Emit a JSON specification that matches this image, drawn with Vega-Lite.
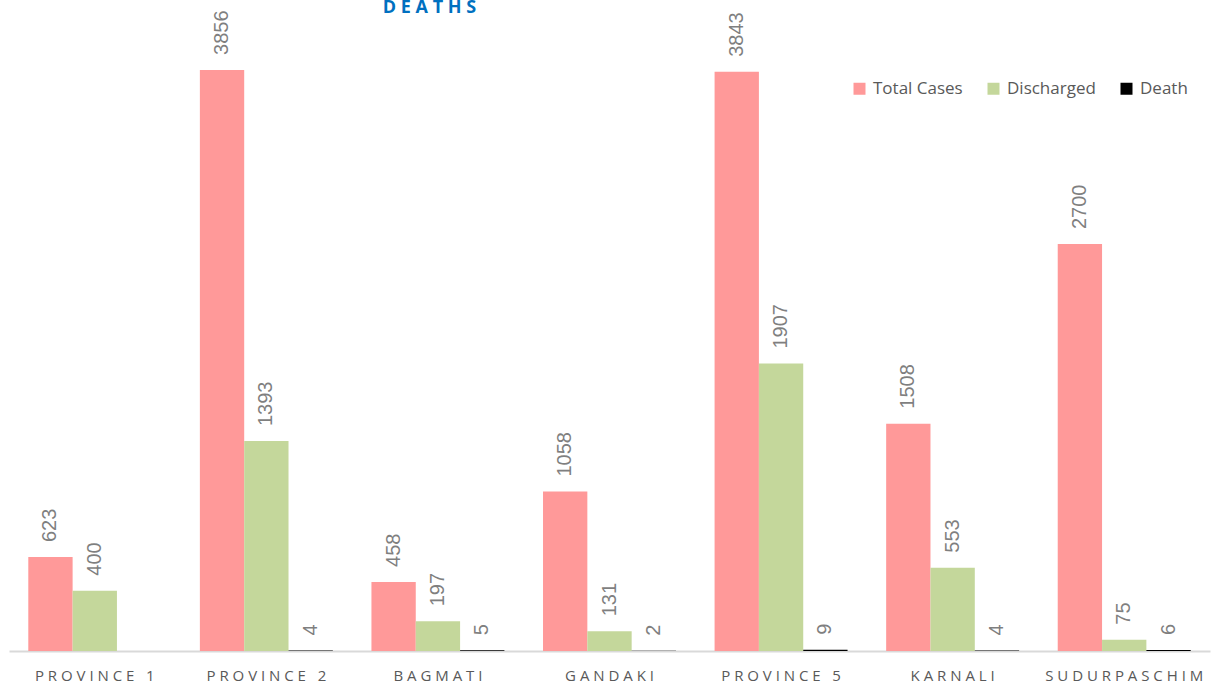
{
  "$schema": "https://vega.github.io/schema/vega-lite/v6.json",
  "autosize": {"type": "none"},
  "width": 1201,
  "height": 631,
  "padding": {"left": 9, "top": 20, "right": 7, "bottom": 36},
  "background": "white",
  "title": {
    "text": "D\u00a0E\u00a0A\u00a0T\u00a0H\u00a0S",
    "anchor": "middle",
    "dx": -180,
    "offset": -7,
    "font": "Open Sans",
    "fontSize": 18,
    "fontWeight": "bold",
    "color": "#0070C0"
  },
  "config": {"view": {"stroke": null}},
  "data": {
    "values": [
      {"province": "PROVINCE 1", "series": "Total Cases", "value": 623},
      {"province": "PROVINCE 1", "series": "Discharged", "value": 400},
      {"province": "PROVINCE 1", "series": "Death", "value": 0},
      {"province": "PROVINCE 2", "series": "Total Cases", "value": 3856},
      {"province": "PROVINCE 2", "series": "Discharged", "value": 1393},
      {"province": "PROVINCE 2", "series": "Death", "value": 4},
      {"province": "BAGMATI", "series": "Total Cases", "value": 458},
      {"province": "BAGMATI", "series": "Discharged", "value": 197},
      {"province": "BAGMATI", "series": "Death", "value": 5},
      {"province": "GANDAKI", "series": "Total Cases", "value": 1058},
      {"province": "GANDAKI", "series": "Discharged", "value": 131},
      {"province": "GANDAKI", "series": "Death", "value": 2},
      {"province": "PROVINCE 5", "series": "Total Cases", "value": 3843},
      {"province": "PROVINCE 5", "series": "Discharged", "value": 1907},
      {"province": "PROVINCE 5", "series": "Death", "value": 9},
      {"province": "KARNALI", "series": "Total Cases", "value": 1508},
      {"province": "KARNALI", "series": "Discharged", "value": 553},
      {"province": "KARNALI", "series": "Death", "value": 4},
      {"province": "SUDURPASCHIM", "series": "Total Cases", "value": 2700},
      {"province": "SUDURPASCHIM", "series": "Discharged", "value": 75},
      {"province": "SUDURPASCHIM", "series": "Death", "value": 6}
    ]
  },
  "encoding": {
    "x": {
      "field": "province",
      "type": "nominal",
      "sort": ["PROVINCE 1", "PROVINCE 2", "BAGMATI", "GANDAKI", "PROVINCE 5", "KARNALI", "SUDURPASCHIM"],
      "scale": {"paddingInner": 0.225, "paddingOuter": 0.1125},
      "axis": {
        "title": null,
        "labelAngle": 0,
        "ticks": false,
        "domainColor": "#d9d9d9",
        "domainWidth": 2,
        "labelFont": "Open Sans",
        "labelFontSize": 15,
        "labelColor": "#595959",
        "labelPadding": 17,
        "labelExpr": "join(split(datum.label, ''), '\u00a0')"
      }
    },
    "xOffset": {
      "field": "series",
      "type": "nominal",
      "sort": ["Total Cases", "Discharged", "Death"]
    },
    "y": {
      "field": "value",
      "type": "quantitative",
      "scale": {"domain": [0, 4187], "nice": false, "zero": true},
      "axis": null
    }
  },
  "layer": [
    {
      "mark": {"type": "bar"},
      "encoding": {
        "color": {
          "field": "series",
          "type": "nominal",
          "sort": ["Total Cases", "Discharged", "Death"],
          "scale": {"domain": ["Total Cases", "Discharged", "Death"], "range": ["#FF9999", "#C4D79B", "#000000"]},
          "legend": {
            "title": null,
            "orient": "none",
            "direction": "horizontal",
            "legendX": 842,
            "legendY": 60,
            "symbolType": "square",
            "symbolSize": 144,
            "symbolStrokeWidth": 0,
            "labelFont": "Open Sans",
            "labelFontSize": 17,
            "labelColor": "#595959",
            "labelOffset": 5,
            "columnPadding": 22,
            "padding": 0
          }
        }
      }
    },
    {
      "transform": [{"filter": "datum.value > 0"}],
      "mark": {
        "type": "text",
        "angle": 270,
        "align": "left",
        "baseline": "middle",
        "dx": 15,
        "font": "Liberation Sans",
        "fontSize": 20,
        "color": "#7f7f7f"
      },
      "encoding": {
        "text": {"field": "value", "type": "quantitative"}
      }
    }
  ]
}
